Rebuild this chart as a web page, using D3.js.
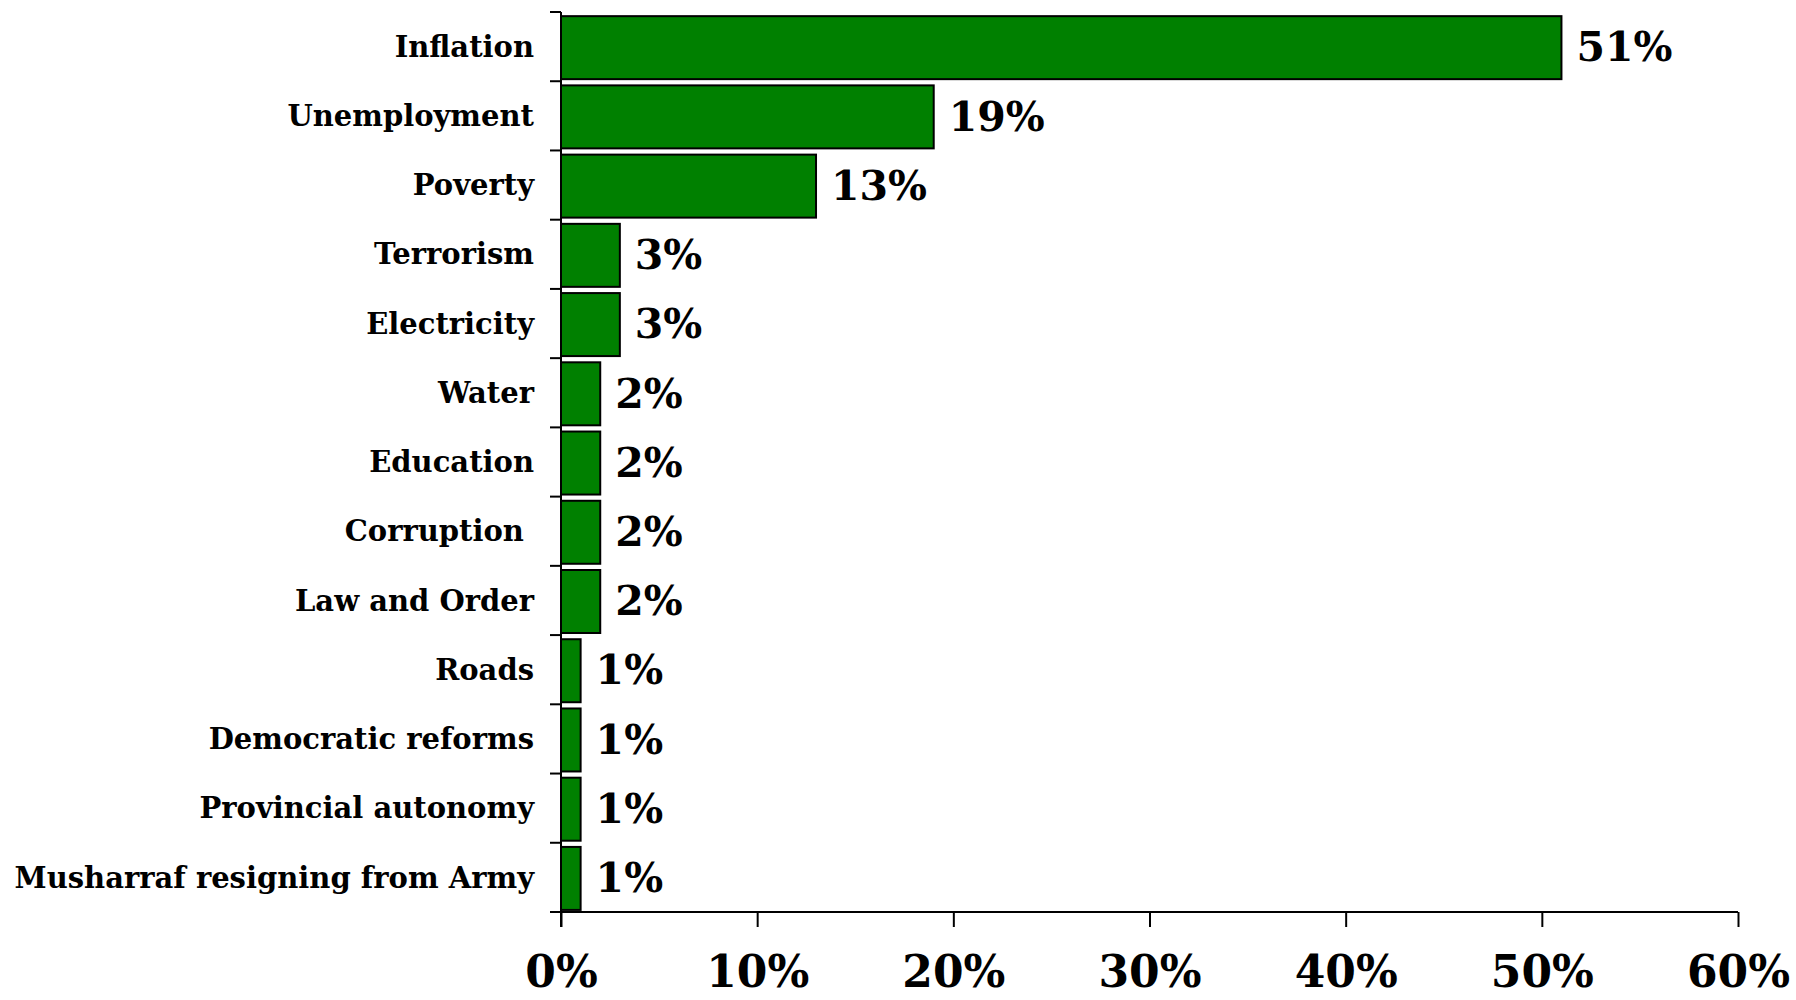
<!DOCTYPE html>
<html><head><meta charset="utf-8">
<script src="https://cdn.jsdelivr.net/npm/d3@7"></script>
<style>body{margin:0;background:#fff}</style>
</head><body>
<svg id="c" width="1796" height="1000"></svg>
<script>
const categories = ["Inflation","Unemployment","Poverty","Terrorism","Electricity","Water","Education","Corruption ","Law and Order","Roads","Democratic reforms","Provincial autonomy","Musharraf resigning from Army"];
const values = [51,19,13,3,3,2,2,2,2,1,1,1,1];
const tickValues = [0,10,20,30,40,50,60];
const tickLabels = ["0%","10%","20%","30%","40%","50%","60%"];

const svg = d3.select("#c");
const mLeft = 561, mRight = 1738, mTop = 12, mBottom = 912;
const x = d3.scaleLinear().domain([0,60]).range([mLeft,mRight]);
const y = d3.scaleBand().domain(categories).range([mTop,mBottom]).padding(0);
const bw = y.bandwidth();

const fontFam = "'DejaVu Serif', serif";

svg.selectAll("rect.bar").data(values).join("rect")
  .attr("x", x(0))
  .attr("y", (d,i)=>y(categories[i]) + bw*0.06)
  .attr("width", d=>x(d)-x(0))
  .attr("height", bw*0.91)
  .attr("fill","#008000").attr("stroke","#000").attr("stroke-width",2);

// y axis
svg.append("line").attr("x1",mLeft).attr("x2",mLeft).attr("y1",mTop).attr("y2",mBottom+15).attr("stroke","#000").attr("stroke-width",2);
svg.selectAll("line.yt").data(d3.range(categories.length+1)).join("line")
  .attr("x1",mLeft-11).attr("x2",mLeft)
  .attr("y1",i=>mTop+i*bw).attr("y2",i=>mTop+i*bw).attr("stroke","#000").attr("stroke-width",2);

// x axis
const xa = d3.axisBottom(x).tickValues(tickValues).tickSize(15).tickFormat((d,i)=>tickLabels[i]).tickPadding(29);
const gx = svg.append("g").attr("transform",`translate(0,${mBottom})`).call(xa);
gx.select(".domain").attr("stroke-width",2).attr("d",`M${mLeft-11},0H${mRight}`);
gx.selectAll(".tick line").attr("stroke-width",2);
gx.selectAll(".tick text").attr("font-family",fontFam).attr("font-weight","bold").attr("font-size",44).attr("fill","#000");

// category labels
svg.selectAll("text.cat").data(categories).join("text")
  .attr("x",534).attr("y",d=>y(d)+bw/2).attr("dy","0.35em")
  .attr("text-anchor","end").attr("font-family",fontFam).attr("font-weight","bold").attr("font-size",29)
  .attr("xml:space","preserve")
  .text(d=>d);

// value labels
svg.selectAll("text.val").data(values).join("text")
  .attr("x",d=>x(d)+15).attr("y",(d,i)=>y(categories[i])+bw/2).attr("dy","0.36em")
  .attr("font-family",fontFam).attr("font-weight","bold").attr("font-size",41)
  .text(d=>d+"%");
</script>
</body></html>
